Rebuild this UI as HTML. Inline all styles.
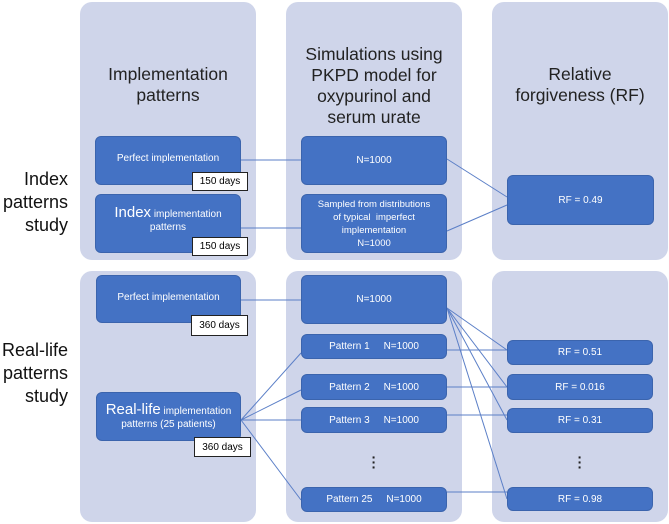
<!DOCTYPE html>
<html><head><style>
body{margin:0;width:669px;height:524px;background:#fff;position:relative;overflow:hidden;font-family:"Liberation Sans",sans-serif}
.p{position:absolute;background:#cfd5ea;border-radius:12px}
.b{position:absolute;background:#4472c4;color:#fff;border-radius:6px;display:flex;align-items:center;justify-content:center;text-align:center;font-size:10px;line-height:13px;border:1px solid #3b64ad;box-sizing:border-box;white-space:nowrap}
.d{position:absolute;background:#fff;border:1px solid #222;font-size:10px;display:flex;align-items:center;justify-content:center;box-sizing:border-box}
.h{position:absolute;text-align:center;font-size:17.5px;line-height:21px;color:#222;white-space:nowrap}
.l{position:absolute;text-align:right;font-size:18px;line-height:23px;color:#111;white-space:nowrap}
svg{position:absolute;left:0;top:0}
.dots{position:absolute;font-size:14px;font-weight:bold;color:#222;line-height:5px;text-align:center;width:10px}
</style></head><body>
<div class="p" style="left:80px;top:2px;width:176px;height:258px"></div>
<div class="p" style="left:286px;top:2px;width:176px;height:258px"></div>
<div class="p" style="left:492px;top:2px;width:176px;height:258px"></div>
<div class="p" style="left:80px;top:271px;width:176px;height:251px"></div>
<div class="p" style="left:286px;top:271px;width:176px;height:251px"></div>
<div class="p" style="left:492px;top:271px;width:176px;height:251px"></div>

<div class="h" style="left:80px;top:64px;width:176px">Implementation<br>patterns</div>
<div class="h" style="left:286px;top:44px;width:176px">Simulations using<br>PKPD model for<br>oxypurinol and<br>serum urate</div>
<div class="h" style="left:492px;top:64px;width:176px">Relative<br>forgiveness (RF)</div>

<div class="l" style="left:0;top:168px;width:68px">Index<br>patterns<br>study</div>
<div class="l" style="left:0;top:339px;width:68px">Real-life<br>patterns<br>study</div>

<svg width="669" height="524"><g stroke="#5b7fc7" stroke-width="1" fill="none">
<line x1="241" y1="160" x2="301" y2="160"/><line x1="241" y1="228" x2="301" y2="228"/>
<line x1="447" y1="159" x2="507" y2="197"/><line x1="447" y1="231" x2="507" y2="205"/>
<line x1="241" y1="300" x2="301" y2="300"/>
<line x1="241" y1="420" x2="301" y2="353"/><line x1="241" y1="420" x2="301" y2="390"/>
<line x1="241" y1="420" x2="301" y2="420"/><line x1="241" y1="420" x2="301" y2="500"/>
<line x1="447" y1="308" x2="507" y2="350"/><line x1="447" y1="308" x2="507" y2="387"/>
<line x1="447" y1="308" x2="507" y2="420"/><line x1="447" y1="308" x2="507" y2="499"/>
<line x1="447" y1="350" x2="507" y2="350"/><line x1="447" y1="387" x2="507" y2="387"/>
<line x1="447" y1="415" x2="507" y2="415"/><line x1="447" y1="492" x2="507" y2="492"/>
</g></svg>

<div class="b" style="left:95px;top:136px;width:146px;height:49px;padding-bottom:4px">Perfect implementation</div>
<div class="d" style="left:192px;top:172px;width:56px;height:19px">150 days</div>
<div class="b" style="left:95px;top:194px;width:146px;height:59px;padding-bottom:8px"><span><span style="font-size:15px">Index</span> implementation<br>patterns</span></div>
<div class="d" style="left:192px;top:237px;width:56px;height:19px">150 days</div>
<div class="b" style="left:301px;top:136px;width:146px;height:49px">N=1000</div>
<div class="b" style="left:301px;top:194px;width:146px;height:59px;font-size:9.5px">Sampled from distributions<br>of typical &nbsp;imperfect<br>implementation<br>N=1000</div>
<div class="b" style="left:507px;top:175px;width:147px;height:50px">RF = 0.49</div>

<div class="b" style="left:96px;top:275px;width:145px;height:48px;padding-bottom:4px">Perfect implementation</div>
<div class="d" style="left:191px;top:315px;width:57px;height:21px">360 days</div>
<div class="b" style="left:96px;top:392px;width:145px;height:49px"><span><span style="font-size:15px">Real-life</span> implementation<br>patterns (25 patients)</span></div>
<div class="d" style="left:194px;top:437px;width:57px;height:20px">360 days</div>

<div class="b" style="left:301px;top:275px;width:146px;height:49px">N=1000</div>
<div class="b" style="left:301px;top:334px;width:146px;height:25px">Pattern 1 &nbsp;&nbsp;&nbsp; N=1000</div>
<div class="b" style="left:301px;top:374px;width:146px;height:26px">Pattern 2 &nbsp;&nbsp;&nbsp; N=1000</div>
<div class="b" style="left:301px;top:407px;width:146px;height:26px">Pattern 3 &nbsp;&nbsp;&nbsp; N=1000</div>
<div class="dots" style="left:369px;top:455px">·<br>·<br>·</div>
<div class="b" style="left:301px;top:487px;width:146px;height:25px">Pattern 25 &nbsp;&nbsp;&nbsp; N=1000</div>

<div class="b" style="left:507px;top:340px;width:146px;height:25px">RF = 0.51</div>
<div class="b" style="left:507px;top:374px;width:146px;height:26px">RF = 0.016</div>
<div class="b" style="left:507px;top:408px;width:146px;height:25px">RF = 0.31</div>
<div class="dots" style="left:575px;top:455px">·<br>·<br>·</div>
<div class="b" style="left:507px;top:487px;width:146px;height:24px">RF = 0.98</div>
</body></html>
